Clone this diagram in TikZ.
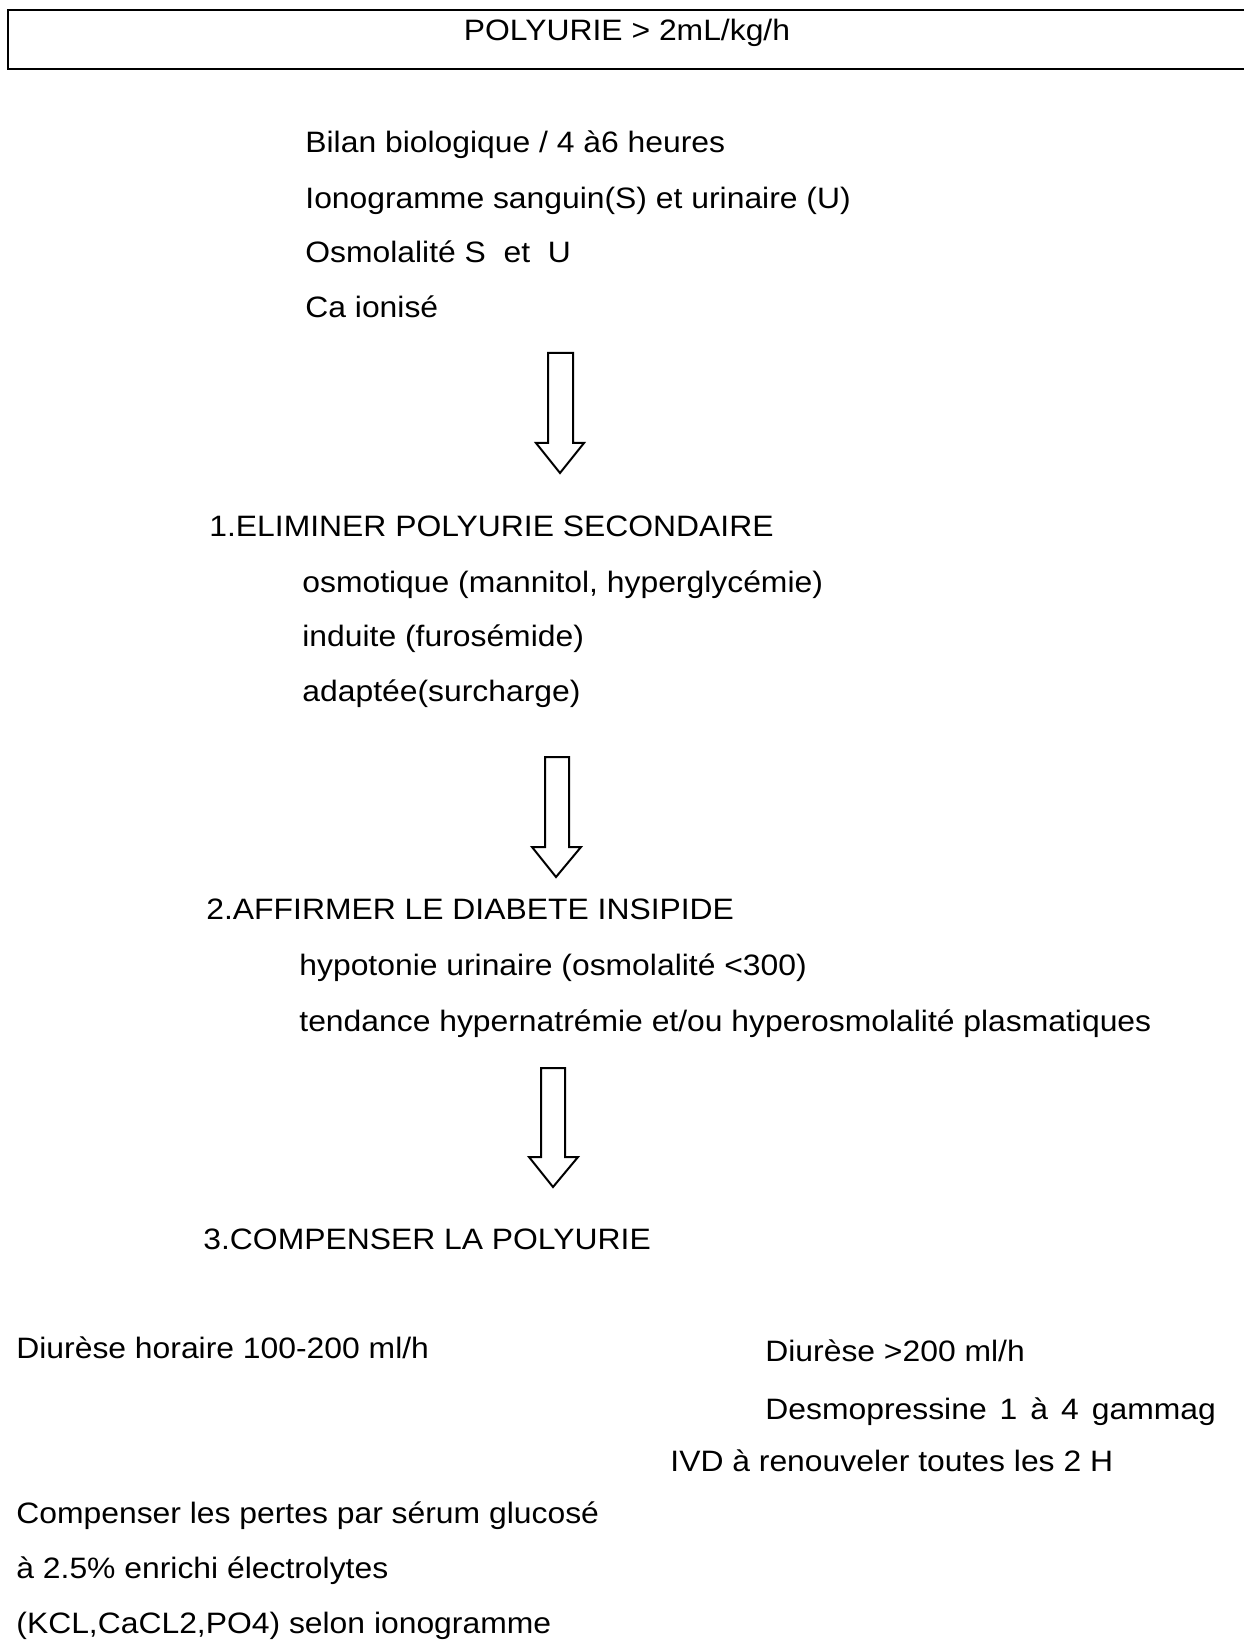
\documentclass[tikz,border=0pt]{standalone}
\usepackage{fontspec}
\setmainfont[FakeStretch=1.08]{Liberation Sans}
\usepackage{tikz}

\begin{document}
\begin{tikzpicture}[x=0.5pt, y=-0.5pt,
    txt/.style={anchor=base west, inner sep=0pt, font=\fontsize{14.75}{18}\selectfont},
    hollow/.style={draw, line width=1pt, line join=miter}]
  \useasboundingbox (0,0) rectangle (1244,1641);
  % titre
  \draw[line width=0.8pt] (1244,10) -- (8,10) -- (8,69) -- (1244,69);
  \node[txt, anchor=base] (titre) at (627,41) {POLYURIE > 2mL/kg/h};
  % bilan
  \node[txt] (bilan) at (305,152.5) {Bilan biologique / 4 à6 heures};
  \node[txt] (iono) at (305,208.5) {Ionogramme sanguin(S) et urinaire (U)};
  \node[txt] (osmo) at (305,262.5) {Osmolalité S~~et~~U};
  \node[txt] (caion) at (305,317.5) {Ca ionisé};
  \path[hollow] (548,353) -- (573,353) -- (573,443) -- (584,443) -- (560,473)
    -- (536,443) -- (548,443) -- cycle;
  % etape 1
  \node[txt] (etape1) at (209,536.5) {1.ELIMINER POLYURIE SECONDAIRE};
  \node[txt] (osmotique) at (302,592.5) {osmotique (mannitol, hyperglycémie)};
  \node[txt] (induite) at (302,646.5) {induite (furosémide)};
  \node[txt] (adaptee) at (302,701.5) {adaptée(surcharge)};
  \path[hollow] (545,757) -- (569,757) -- (569,847) -- (581,847) -- (556,877)
    -- (532,847) -- (545,847) -- cycle;
  % etape 2
  \node[txt] (etape2) at (206,919.5) {2.AFFIRMER LE DIABETE INSIPIDE};
  \node[txt] (hypotonie) at (299,975.5) {hypotonie urinaire (osmolalité <300)};
  \node[txt] (tendance) at (299,1031.5) {tendance hypernatrémie et/ou hyperosmolalité plasmatiques};
  \path[hollow] (541,1068) -- (565,1068) -- (565,1157) -- (578,1157) -- (553,1187)
    -- (529,1157) -- (541,1157) -- cycle;
  % etape 3
  \node[txt] (etape3) at (203,1249.5) {3.COMPENSER LA POLYURIE};
  \node[txt] (diurmod) at (16,1358.5) {Diurèse horaire 100-200 ml/h};
  \node[txt] (diurforte) at (765,1361.5) {Diurèse >200 ml/h};
  \node[txt] (desmo) at (765,1419.5) {Desmopressine\hspace{6.5pt}1\hspace{6.5pt}à\hspace{6.5pt}4\hspace{6.5pt}gammag};
  \node[txt] (ivd) at (670,1471.5) {IVD à renouveler toutes les 2 H};
  \node[txt] (compens) at (16,1523.5) {Compenser les pertes par sérum glucosé};
  \node[txt] (enrichi) at (16,1578.5) {à 2.5\% enrichi électrolytes};
  \node[txt] (selon) at (16,1633.5) {(KCL,CaCL2,PO4) selon ionogramme};
\end{tikzpicture}
\end{document}
